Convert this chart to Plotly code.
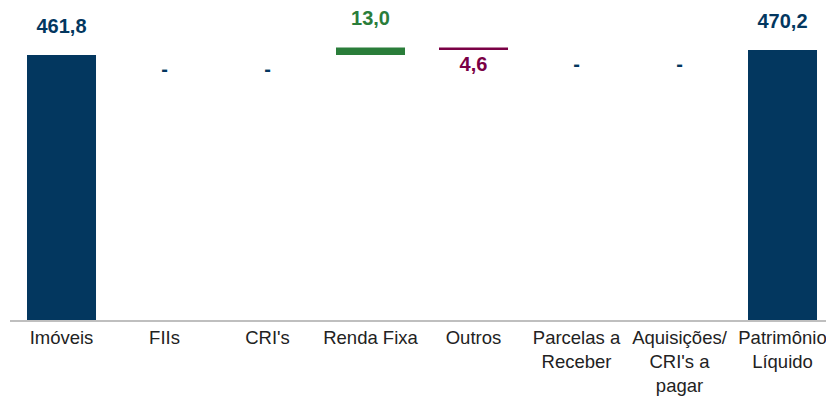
import plotly.graph_objects as go

categories = ["Imóveis", "FIIs", "CRI's", "Renda Fixa", "Outros",
              "Parcelas a<br>Receber", "Aquisições/<br>CRI's a<br>pagar",
              "Patrimônio<br>Líquido"]
values = [461.8, 0.0, 0.0, 13.0, -4.6, 0.0, 0.0, 470.2]
measures = ["total", "relative", "relative", "relative", "relative",
            "relative", "relative", "total"]

NAVY = "#03375f"
GREEN = "#2a7d3a"
MAROON = "#7a0045"

def fmt(v):
    return f"{abs(v):.1f}".replace(".", ",")

bases, heights, colors = [], [], []
up_x, up_y, up_t, up_c = [], [], [], []
dn_x, dn_y, dn_t, dn_c = [], [], [], []
cum = 0.0
for c, v, m in zip(categories, values, measures):
    if m == "total":
        bases.append(0.0); heights.append(v); colors.append(NAVY)
        up_x.append(c); up_y.append(v); up_t.append(fmt(v)); up_c.append(NAVY)
        cum = v
    else:
        bases.append(cum); heights.append(v)
        if v > 0:
            colors.append(GREEN)
            up_x.append(c); up_y.append(cum + v); up_t.append(fmt(v)); up_c.append(GREEN)
        elif v < 0:
            colors.append(MAROON)
            dn_x.append(c); dn_y.append(cum + v); dn_t.append(fmt(v)); dn_c.append(MAROON)
        else:
            colors.append(NAVY)
            dn_x.append(c); dn_y.append(cum); dn_t.append("-"); dn_c.append(NAVY)
        cum += v

fig = go.Figure()
fig.add_trace(go.Bar(
    x=categories, y=heights, base=bases,
    marker=dict(color=colors, line=dict(width=0)),
    hoverinfo="skip",
))
fig.add_trace(go.Scatter(
    x=up_x, y=up_y, mode="markers+text", text=up_t,
    marker=dict(size=26, opacity=0),
    textposition="top center", cliponaxis=False,
    textfont=dict(family="Liberation Sans", size=20, color=up_c, weight="bold"),
    hoverinfo="skip",
))
fig.add_trace(go.Scatter(
    x=dn_x, y=dn_y, mode="markers+text", text=dn_t,
    marker=dict(size=8, opacity=0),
    textposition="bottom center", cliponaxis=False,
    textfont=dict(family="Liberation Sans", size=20, color=dn_c, weight="bold"),
    hoverinfo="skip",
))

fig.update_layout(
    width=826, height=395,
    margin=dict(l=2, r=0, t=2, b=83, autoexpand=False),
    paper_bgcolor="white", plot_bgcolor="white",
    showlegend=False, bargap=0.33,
    font=dict(family="Liberation Sans"),
)
fig.update_xaxes(
    showline=True, linecolor="#bfbfbf", linewidth=1.5, showgrid=False,
    ticks="", automargin=False, range=[-0.5, len(categories) - 0.5],
    tickfont=dict(family="Liberation Sans", size=18.5, color="#222222"),
)
fig.update_yaxes(visible=False, range=[0, 540], showgrid=False, zeroline=False)

fig.write_html("out.html")
